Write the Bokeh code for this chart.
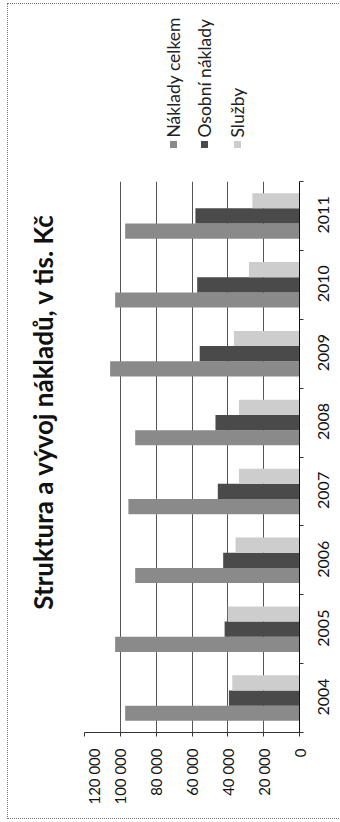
import numpy as np
from math import pi
from bokeh.plotting import figure
from bokeh.layouts import row, column
from bokeh.models import Range1d, FixedTicker, Label, ColumnDataSource
from bokeh.embed import file_html
from bokeh.resources import INLINE

# ---- data ----
years = ["2004", "2005", "2006", "2007", "2008", "2009", "2010", "2011"]
naklady_celkem = [97300, 102900, 91700, 95500, 91700, 105700, 102900, 97300]
osobni_naklady = [39400, 41800, 42600, 45600, 46900, 55700, 57100, 58100]
sluzby = [37500, 40000, 35700, 33800, 33800, 36600, 28200, 26300]
series_names = ["Náklady celkem", "Osobní náklady", "Služby"]
value_ticks = [0, 20000, 40000, 60000, 80000, 100000, 120000]
value_tick_labels = ["0", "20 000", "40 000", "60 000", "80 000", "100 000", "120 000"]
title_text = "Struktura a vývoj nákladů, v tis. Kč"

colors = ["#8a8a8a", "#4a4a4a", "#cdcdcd"]
FONT = "Lato"

W, H = 340, 822
FL, FR, FT, FB = 84, 299, 181, 732   # frame edges in page px


def blank(width, height, x0, x1, y0, y1):
    f = figure(width=width, height=height, output_backend="svg", toolbar_location=None,
               x_range=Range1d(x0, x1), y_range=Range1d(y1, y0),
               x_axis_type=None, y_axis_type=None, min_border=0)
    f.outline_line_color = None
    f.grid.grid_line_color = None
    f.background_fill_color = "white"
    f.border_fill_color = "white"
    return f


# ---- left strip: title ----
title_fig = blank(FL, H, 0, FL, 0, H)
title_fig.add_layout(Label(x=42, y=411, text=title_text, angle=pi / 2,
                           text_align="center", text_baseline="middle",
                           text_font=FONT, text_font_style="bold", text_font_size="26px",
                           text_color="#111111"))

# ---- top strip: legend ----
leg_fig = blank(W - FL, FT, FL, W, 0, FT)

# ---- main chart ----
p = figure(width=W - FL, height=H - FT, output_backend="svg", toolbar_location=None,
           x_range=Range1d(value_ticks[-1], 0), y_range=Range1d(0, len(years)),
           y_axis_location="right",
           min_border_left=0, min_border_right=W - FR,
           min_border_top=0, min_border_bottom=H - FB)
p.outline_line_color = None
p.background_fill_color = "white"
p.border_fill_color = "white"

# keep each strip's frame independent (otherwise the column aligns frame edges)
try:
    for f in (title_fig, leg_fig, p):
        f.frame_align = False
except Exception:
    leg_fig.x_range = Range1d(FL, FR)

leg_x = [173, 204, 237]
leg_src = ColumnDataSource(dict(x=leg_x, y=[144] * 3, c=colors))
leg_fig.rect(x="x", y="y", width=7, height=7, fill_color="c", line_color=None, source=leg_src)
for name, lx in zip(series_names, leg_x):
    leg_fig.add_layout(Label(x=lx, y=137, text=name, angle=pi / 2,
                             text_align="left", text_baseline="middle",
                             text_font=FONT, text_font_size="17.5px", text_color="#222222"))

pos = np.arange(len(years)) + 0.5
offsets = [-0.22, 0.0, 0.22]
bar_h = 0.22
for vals, off, col in zip([naklady_celkem, osobni_naklady, sluzby], offsets, colors):
    src = ColumnDataSource(dict(y=pos + off, right=vals))
    p.hbar(y="y", left=0, right="right", height=bar_h, source=src,
           fill_color=col, line_color=None)

xa = p.xaxis[0]
xa.ticker = FixedTicker(ticks=value_ticks)
xa.major_label_overrides = {v: l for v, l in zip(value_ticks, value_tick_labels)}
xa.major_label_orientation = pi / 2
xa.minor_tick_line_color = None
xa.major_tick_in = 0
xa.major_tick_out = 4
xa.axis_line_color = "#333333"
xa.major_tick_line_color = "#333333"
xa.major_label_text_font = FONT
xa.major_label_text_font_size = "15px"
xa.major_label_text_color = "#111111"
xa.major_label_standoff = 12

# category labels: rotated text starts at its tick, so place the (invisible) label
# ticks half a label length below each category centre
ypx = (FB - FT) / len(years)
label_shift = 17.5 / ypx
label_pos = [float(c - label_shift) for c in pos]
ya = p.yaxis[0]
ya.ticker = FixedTicker(ticks=label_pos, minor_ticks=list(range(len(years) + 1)))
ya.major_label_overrides = {lp: y for lp, y in zip(label_pos, years)}
ya.major_label_orientation = pi / 2
ya.major_tick_in = 0
ya.major_tick_out = 0
ya.minor_tick_in = 0
ya.minor_tick_out = 4
ya.axis_line_color = "#111111"
ya.minor_tick_line_color = "#333333"
ya.major_label_text_font = FONT
ya.major_label_text_font_size = "16px"
ya.major_label_text_color = "#111111"
ya.major_label_standoff = 20

p.xgrid.ticker = FixedTicker(ticks=value_ticks)
p.xgrid.grid_line_color = "#555555"
p.ygrid.grid_line_color = None

css = (":host{position:relative;}"
       ":host::after{content:'';position:absolute;left:7px;top:3px;width:345px;height:814px;"
       "border-left:1px dotted #777;border-top:1px dotted #777;border-bottom:1px dotted #777;"
       "pointer-events:none;z-index:10;}")
layout = row(title_fig, column(leg_fig, p), stylesheets=[css])

open("out.html", "w").write(file_html(layout, INLINE))
